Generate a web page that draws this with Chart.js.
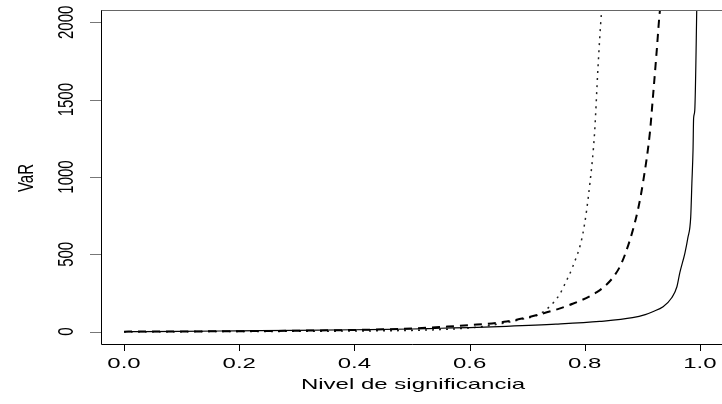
<!DOCTYPE html>
<html>
<head>
<meta charset="utf-8">
<script src="https://cdn.jsdelivr.net/npm/chart.js@4/dist/chart.umd.min.js"></script>
<style>
  html, body { margin: 0; padding: 0; background: #fff; }
  canvas { display: block; }
</style>
</head>
<body>
<canvas id="chart" width="722" height="404"></canvas>
<script>
// valores
const solidX  = [0, 0.1, 0.2, 0.3, 0.4, 0.5, 0.55, 0.6, 0.664, 0.75, 0.826, 0.883, 0.905, 0.918, 0.936, 0.951, 0.96, 0.965, 0.974, 0.979, 0.984, 0.986, 0.988, 0.989, 0.991, 0.995];
const solidY  = [0, 2, 5, 8, 12, 17, 22, 26, 34, 48, 66, 90, 110, 129, 161, 219, 290, 380, 510, 606, 742, 960, 1174, 1380, 1430, 2200];
const dashX   = [0, 0.1, 0.2, 0.3, 0.4, 0.5, 0.548, 0.6, 0.664, 0.722, 0.779, 0.821, 0.838, 0.85, 0.861, 0.87, 0.883, 0.893, 0.901, 0.913, 0.918, 0.925, 0.93, 0.935];
const dashY   = [0, 1, 3, 6, 11, 20, 30, 42, 65, 112, 180, 255, 305, 355, 420, 500, 650, 800, 961, 1284, 1500, 1819, 2058, 2200];
const dotX    = [0, 0.1, 0.2, 0.3, 0.4, 0.5, 0.548, 0.605, 0.664, 0.687, 0.722, 0.745, 0.757, 0.767, 0.779, 0.797, 0.809, 0.817, 0.823, 0.829, 0.834];
const dotY    = [0, 0, 1, 2, 4, 8, 13, 26, 58, 77, 115, 185, 245, 320, 419, 639, 961, 1284, 1710, 2058, 2200];

const xTicks = [0, 0.2, 0.4, 0.6, 0.8, 1.0];
const xTickLabels = ['0.0', '0.2', '0.4', '0.6', '0.8', '1.0'];
const yTicks = [0, 500, 1000, 1500, 2000];
const yTickLabels = ['0', '500', '1000', '1500', '2000'];
const xTitle = 'Nivel de significancia';
const yTitle = 'VaR';

const toPoints = (xs, ys) => xs.map((x, i) => ({ x: x, y: ys[i] }));

const FONT = '15px "Liberation Sans", Arial, sans-serif';
const STRETCH = 1.6;

function stretchedText(ctx, text, cx, cy, rotate) {
    ctx.save();
    ctx.translate(cx, cy);
    if (rotate) {
        ctx.rotate(-Math.PI / 2);
        ctx.scale(1, STRETCH * 0.9);
    } else {
        ctx.scale(STRETCH, 1);
    }
    ctx.fillText(text, 0, 0);
    ctx.restore();
}

const rAxes = {
    id: 'rAxes',
    afterDraw(chart) {
        const { ctx, chartArea: a, scales } = chart;
        const xs = scales.x, ys = scales.y;
        ctx.save();
        ctx.lineWidth = 1;

        // caja
        ctx.strokeStyle = '#666';
        ctx.beginPath();
        ctx.moveTo(a.left, a.top + 0.5);
        ctx.lineTo(a.right + 2, a.top + 0.5);
        ctx.stroke();
        ctx.strokeStyle = '#000';
        ctx.beginPath();
        ctx.moveTo(a.left + 0.5, a.top + 0.5);
        ctx.lineTo(a.left + 0.5, a.bottom + 0.5);
        ctx.lineTo(a.right + 2, a.bottom + 0.5);
        ctx.stroke();

        // marcas
        ctx.beginPath();
        xTicks.forEach(v => {
            const px = Math.round(xs.getPixelForValue(v)) + 0.5;
            ctx.moveTo(px, a.bottom);
            ctx.lineTo(px, a.bottom + 7);
        });
        ctx.stroke();
        ctx.strokeStyle = '#777';
        ctx.beginPath();
        yTicks.forEach(v => {
            const py = Math.round(ys.getPixelForValue(v)) + 0.5;
            ctx.moveTo(a.left, py);
            ctx.lineTo(a.left - 11, py);
        });
        ctx.stroke();

        // textos
        ctx.fillStyle = '#000';
        ctx.font = FONT;
        ctx.textAlign = 'center';
        ctx.textBaseline = 'middle';
        xTicks.forEach((v, i) => {
            stretchedText(ctx, xTickLabels[i], xs.getPixelForValue(v), 364, false);
        });
        yTicks.forEach((v, i) => {
            stretchedText(ctx, yTickLabels[i], 67, ys.getPixelForValue(v), true);
        });
        stretchedText(ctx, xTitle, 413, 385, false);
        stretchedText(ctx, yTitle, 27, 178, true);
        ctx.restore();
    }
};

new Chart(document.getElementById('chart').getContext('2d'), {
    type: 'line',
    data: {
        datasets: [{
            data: toPoints(solidX, solidY),
            borderColor: '#000',
            borderWidth: 1.2
        }, {
            data: toPoints(dashX, dashY),
            borderColor: '#000',
            borderWidth: 2,
            borderDash: [8, 6]
        }, {
            data: toPoints(dotX, dotY),
            borderColor: '#222',
            borderWidth: 1.5,
            borderDash: [2, 5]
        }]
    },
    options: {
        responsive: false,
        animation: false,
        devicePixelRatio: 1,
        layout: { padding: { left: 101, top: 10, right: 0, bottom: 60 } },
        elements: {
            point: { radius: 0 },
            line: { cubicInterpolationMode: 'monotone', fill: false }
        },
        datasets: { line: { clip: 0 } },
        plugins: { legend: { display: false }, tooltip: { enabled: false } },
        scales: {
            x: { type: 'linear', min: -0.04, max: 1.0383, display: false },
            y: { type: 'linear', min: -80, max: 2080, display: false }
        }
    },
    plugins: [rAxes]
});
</script>
</body>
</html>
